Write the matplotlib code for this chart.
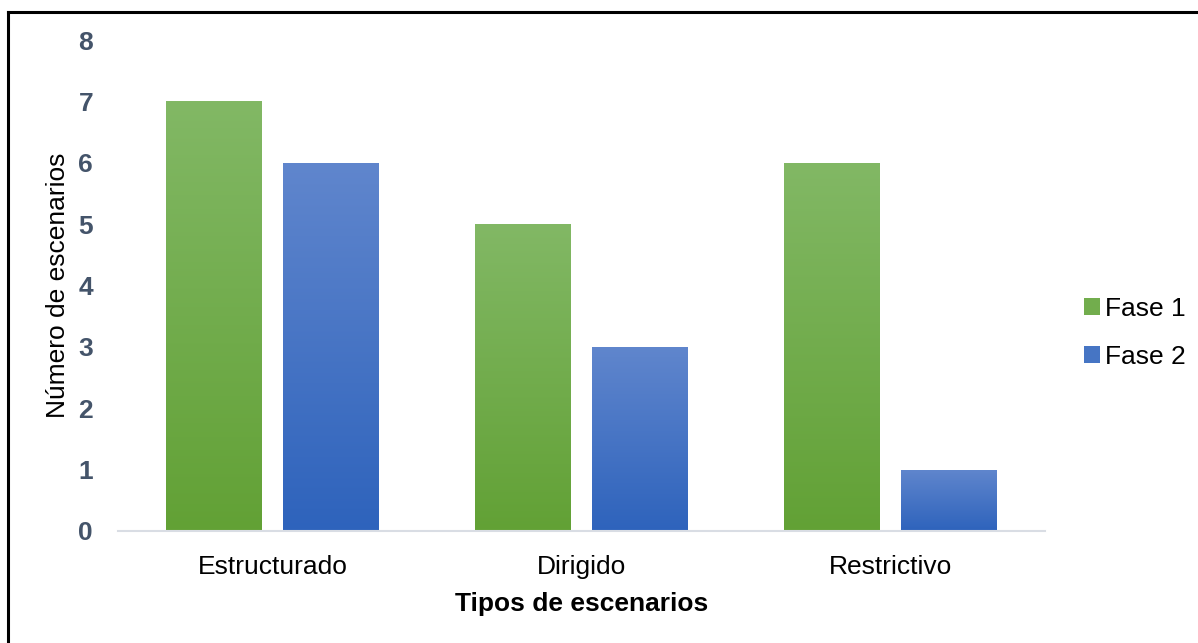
import matplotlib
matplotlib.use("Agg")
import matplotlib.pyplot as plt
from matplotlib.colors import LinearSegmentedColormap
from matplotlib.patches import Patch
from matplotlib.lines import Line2D
import numpy as np

categories = ["Estructurado", "Dirigido", "Restrictivo"]
fase1 = [7, 5, 6]
fase2 = [6, 3, 1]
series_names = ["Fase 1", "Fase 2"]
yticks = [0, 1, 2, 3, 4, 5, 6, 7, 8]

plt.rcParams["font.family"] = ["Liberation Sans", "DejaVu Sans"]

green = LinearSegmentedColormap.from_list("g", ["#62a135", "#82b865"])
blue = LinearSegmentedColormap.from_list("b", ["#2e63bc", "#6086cd"])

fig = plt.figure(figsize=(11.98, 6.43), dpi=100)
ax = fig.add_axes([118 / 1198, 1 - 531 / 643, (1045 - 118) / 1198, (531 - 40) / 643])

x = np.arange(len(categories))
width = 0.31
offset = 0.19
grad = np.linspace(0, 1, 256).reshape(-1, 1)

for vals, dx, cmap in [(fase1, -offset, green), (fase2, offset, blue)]:
    bars = ax.bar(x + dx, vals, width, color="none", edgecolor="none", zorder=2)
    for b in bars:
        x0, y0 = b.get_x(), b.get_y()
        im = ax.imshow(grad, cmap=cmap, origin="lower", aspect="auto",
                       extent=[x0, x0 + b.get_width(), y0, y0 + b.get_height()],
                       zorder=2)
        im.set_clip_path(b)

ax.set_xlim(-0.5, 2.5)
ax.set_ylim(0, 8)
ax.set_yticks(yticks)
ax.set_xticks(x)
ax.set_xticklabels(categories, fontsize=19)
for lbl in ax.get_yticklabels():
    lbl.set_fontsize(19)
    lbl.set_fontweight("bold")
    lbl.set_color("#44546a")
ax.tick_params(axis="y", length=0, pad=18)
ax.tick_params(axis="x", length=0, pad=17)
for s in ["top", "right", "left"]:
    ax.spines[s].set_visible(False)
ax.spines["bottom"].set_color("#d9dde4")
ax.spines["bottom"].set_linewidth(1.5)
ax.spines["bottom"].set_zorder(3)

ax.set_xlabel("Tipos de escenarios", fontsize=19, fontweight="bold", labelpad=10)
ax.set_ylabel("Número de escenarios", fontsize=19, labelpad=6)

handles = [Patch(facecolor="#72ad4d", edgecolor="none"),
           Patch(facecolor="#4675c4", edgecolor="none")]
fig.legend(handles, series_names, loc="center left",
           bbox_to_anchor=(1060 / 1198, 1 - 333 / 643), frameon=False,
           fontsize=19, handlelength=0.6, handleheight=0.6, handletextpad=0.2,
           labelspacing=0.9)

# outer frame
fig.add_artist(Line2D([8 / 1198, 8 / 1198], [0, 1 - 12 / 643], color="black",
                      lw=2.2, transform=fig.transFigure))
fig.add_artist(Line2D([8 / 1198, 1], [1 - 12 / 643, 1 - 12 / 643], color="black",
                      lw=2.2, transform=fig.transFigure))

fig.savefig("out.png", dpi=100)
plt.close(fig)
